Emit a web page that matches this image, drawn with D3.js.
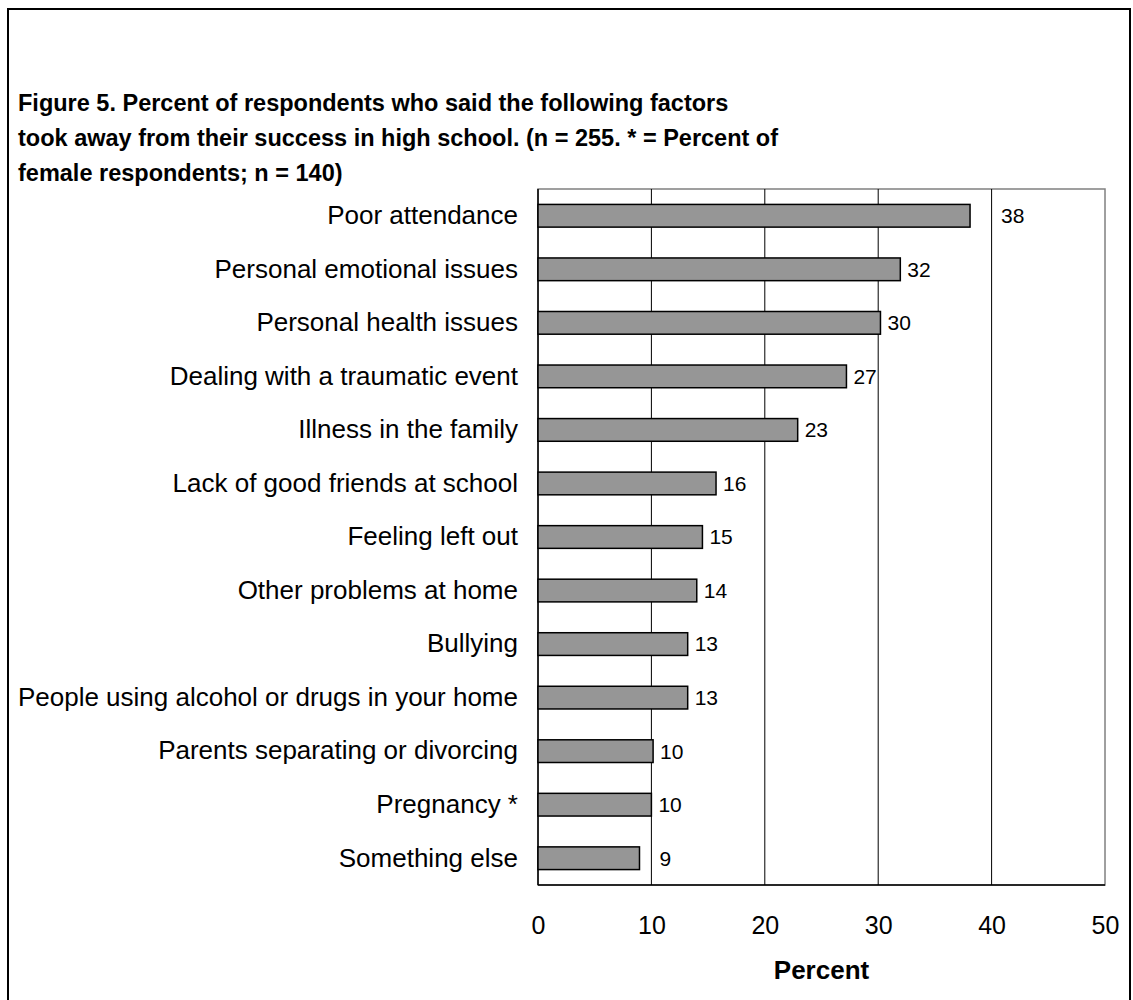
<!DOCTYPE html>
<html>
<head>
<meta charset="utf-8">
<script src="https://cdn.jsdelivr.net/npm/d3@7"></script>
<style>
  html, body { margin: 0; padding: 0; background: #fff; }
  svg { display: block; font-family: "Liberation Sans", Arial, sans-serif; }
</style>
</head>
<body>
<svg id="chart" width="1133" height="1000"></svg>
<script>
const titleLines = [
  "Figure 5. Percent of respondents who said the following factors",
  "took away from their success in high school. (n = 255. * = Percent of",
  "female respondents; n = 140)"
];
const categories = [
  "Poor attendance",
  "Personal emotional issues",
  "Personal health issues",
  "Dealing with a traumatic event",
  "Illness in the family",
  "Lack of good friends at school",
  "Feeling left out",
  "Other problems at home",
  "Bullying",
  "People using alcohol or drugs in your home",
  "Parents separating or divorcing",
  "Pregnancy *",
  "Something else"
];
const values = [38.1, 31.95, 30.2, 27.2, 22.9, 15.7, 14.5, 14.0, 13.2, 13.2, 10.15, 10.0, 8.95];
const xTicks = [0, 10, 20, 30, 40, 50];
const xTitle = "Percent";

const svg = d3.select("#chart");
const plot = { left: 538, right: 1105, top: 189, bottom: 885 };

// outer frame
svg.append("rect")
  .attr("x", 8).attr("y", 9).attr("width", 1122).attr("height", 1010)
  .attr("fill", "none").attr("stroke", "#000").attr("stroke-width", 2);

// title
svg.append("g").selectAll("text").data(titleLines).join("text")
  .attr("x", 18)
  .attr("y", (d, i) => 111 + i * 35)
  .attr("font-size", 23.5).attr("font-weight", "bold").attr("fill", "#000")
  .text(d => d);

const x = d3.scaleLinear().domain([0, 50]).range([plot.left, plot.right]);
const y = d3.scaleBand().domain(categories).range([plot.top, plot.bottom])
  .paddingInner(0.576).paddingOuter(0.288);

// plot area border
svg.append("rect")
  .attr("x", plot.left).attr("y", plot.top)
  .attr("width", plot.right - plot.left).attr("height", plot.bottom - plot.top)
  .attr("fill", "#fff").attr("stroke", "#808080").attr("stroke-width", 1.5);

// gridlines
svg.append("g").selectAll("line").data(xTicks.filter(t => t > 0 && t < 50)).join("line")
  .attr("x1", d => x(d)).attr("x2", d => x(d))
  .attr("y1", plot.top).attr("y2", plot.bottom)
  .attr("stroke", "#000").attr("stroke-width", 1);

// axis lines
svg.append("line").attr("x1", plot.left).attr("x2", plot.left)
  .attr("y1", plot.top).attr("y2", plot.bottom).attr("stroke", "#000").attr("stroke-width", 1.5);
svg.append("line").attr("x1", plot.left).attr("x2", plot.right)
  .attr("y1", plot.bottom).attr("y2", plot.bottom).attr("stroke", "#000").attr("stroke-width", 1.5);

// bars
svg.append("g").selectAll("rect").data(categories).join("rect")
  .attr("x", x(0))
  .attr("y", d => y(d))
  .attr("width", (d, i) => x(values[i]) - x(0))
  .attr("height", y.bandwidth())
  .attr("fill", "#969696").attr("stroke", "#000").attr("stroke-width", 1.5);

// data labels
const nudge = { "Poor attendance": 24, "Something else": 13 };
svg.append("g").selectAll("text").data(categories).join("text")
  .attr("x", (d, i) => x(values[i]) + 7 + (nudge[d] || 0))
  .attr("y", d => y(d) + y.bandwidth() / 2)
  .attr("dy", "0.35em")
  .attr("font-size", 21).attr("fill", "#000")
  .text((d, i) => Math.round(values[i]));

// category labels
const yAxis = d3.axisLeft(y).tickSize(0).tickPadding(20);
const yg = svg.append("g").attr("transform", `translate(${plot.left},0)`).call(yAxis);
yg.select(".domain").remove();
yg.selectAll("text").attr("font-size", 26).attr("fill", "#000")
  .attr("font-family", "Liberation Sans, Arial, sans-serif");

// x tick labels
const xAxis = d3.axisBottom(x).tickValues(xTicks).tickSize(0).tickPadding(0).tickFormat(d3.format("d"));
const xg = svg.append("g").attr("transform", `translate(0,${plot.bottom})`).call(xAxis);
xg.select(".domain").remove();
xg.selectAll("text").attr("font-size", 25).attr("fill", "#000")
  .attr("font-family", "Liberation Sans, Arial, sans-serif")
  .attr("dy", null).attr("y", 49);

// x title
svg.append("text")
  .attr("x", (plot.left + plot.right) / 2).attr("y", 979)
  .attr("text-anchor", "middle")
  .attr("font-size", 26).attr("font-weight", "bold").attr("fill", "#000")
  .text(xTitle);
</script>
</body>
</html>
